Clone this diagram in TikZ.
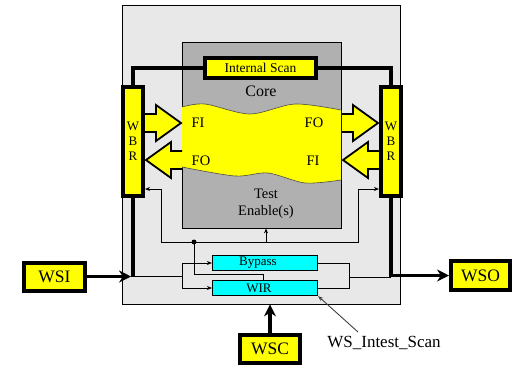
\documentclass[tikz,border=0pt]{standalone}
\usepackage{fontspec}
\setmainfont{Liberation Serif}
\usetikzlibrary{arrows.meta,calc}
\definecolor{outerg}{RGB}{232,232,232}
\definecolor{coreg}{RGB}{176,176,176}
\definecolor{yel}{RGB}{255,255,0}
\definecolor{cyn}{RGB}{0,255,255}
\begin{document}
\begin{tikzpicture}[x=1pt,y=-1pt,
  ybox/.style={draw=black,line width=4pt,fill=yel,inner sep=0pt},
  cbox/.style={draw=black,line width=1.2pt,fill=cyn,inner sep=0pt,minimum width=105pt,minimum height=15pt,font=\fontsize{13}{13}\selectfont},
  thk/.style={line width=3.5pt},
  thn/.style={line width=0.9pt},
  tip/.style={-{Stealth[length=5pt,width=4pt]}},
  bigtip/.style={-{Stealth[length=12pt,width=12pt]}},
  barrow/.style={draw=black,line width=1.8pt,fill=yel,line join=miter},
  lbl/.style={inner sep=0pt,font=\fontsize{14.5}{16}\selectfont}
]
\useasboundingbox (0,0) rectangle (521,365);
% outer and core boxes
\node[draw=black,line width=0.8pt,fill=outerg,minimum width=278pt,minimum height=299pt,inner sep=0pt] (outer) at (261,154.5) {};
\node[draw=black,line width=0.8pt,fill=coreg,minimum width=159pt,minimum height=186pt,inner sep=0pt] (core) at (261.5,135) {};
% yellow wave
\fill[yel] plot[smooth] coordinates {(182,107) (205,104) (250,114) (295,104) (341,110)}
  -- plot[smooth] coordinates {(341,180) (305,183) (268,173) (235,176) (182,167)} -- cycle;
\draw[black!70,line width=0.6pt] plot[smooth] coordinates {(182,107) (205,104) (250,114) (295,104) (341,110)};
\draw[black!70,line width=0.6pt] plot[smooth] coordinates {(341,180) (305,183) (268,173) (235,176) (182,167)};
% block arrows
\filldraw[barrow,shift={(145,123)}] (0,-9) -- (11,-9) -- (11,-18) -- (36,0) -- (11,18) -- (11,9) -- (0,9);
\filldraw[barrow,shift={(182,160)},xscale=-1] (0,-9) -- (11,-9) -- (11,-18) -- (36,0) -- (11,18) -- (11,9) -- (0,9);
\filldraw[barrow,shift={(342,123)}] (0,-9) -- (11,-9) -- (11,-18) -- (36,0) -- (11,18) -- (11,9) -- (0,9);
\filldraw[barrow,shift={(379,160)},xscale=-1] (0,-9) -- (11,-9) -- (11,-18) -- (36,0) -- (11,18) -- (11,9) -- (0,9);
% boxes
\node[ybox,minimum width=111pt,minimum height=20pt,font=\fontsize{13.5}{14}\selectfont] (iscan) at (260.5,68) {Internal Scan};
\node[ybox,minimum width=20pt,minimum height=109pt,align=center,font=\fontsize{13}{15}\selectfont] (wbrl) at (133,141.5) {W\\B\\R};
\node[ybox,minimum width=20pt,minimum height=109pt,align=center,font=\fontsize{13}{15}\selectfont] (wbrr) at (391,141.5) {W\\B\\R};
\node[ybox,minimum width=61pt,minimum height=28pt,font=\fontsize{17.5}{18}\selectfont] (wsi) at (54.5,276.5) {WSI};
\node[ybox,minimum width=59pt,minimum height=29pt,font=\fontsize{17.5}{18}\selectfont] (wso) at (480.5,275.5) {WSO};
\node[ybox,minimum width=60pt,minimum height=28pt,font=\fontsize{17.5}{18}\selectfont] (wsc) at (270,349) {WSC};
\node[cbox] (bypass) at (265,263) {\hspace*{-14pt}Bypass};
\node[cbox] (wir) at (265,288) {\hspace*{-12pt}WIR};
% thick connections
\draw[thk] (iscan.west) -| (wbrl.north);
\draw[thk] (iscan.east) -| (wbrr.north);
\coordinate (sin) at (133,276.5);
\draw[thk] (wbrl.south) -- (sin);
\draw[thk,bigtip] (wsi.east) -- ($(sin)+(-2,0)$);
\draw[thk,bigtip] (wbrr.south) |- (wso.west);
\draw[thk,bigtip] (wsc.north) -- (wsc.north |- outer.south);
% thin control lines
\coordinate (dot) at (194,242);
\coordinate (te) at (266,242);
\coordinate (cl) at (161,189);
\coordinate (cr) at (358,189);
\draw[thn,tip] (dot) -| (cl) -- (cl -| wbrl.east);
\draw[thn,tip] (dot) -| (cr) -- (cr -| wbrr.west);
\draw[thn,tip] (te) -- (te |- core.south);
\fill (dot) circle (2.5pt);
\coordinate (wc) at (263,274);
\draw[thn] (dot) |- (wc) -- (wc |- wir.north);
% serial paths
\coordinate (fan) at (182,276.5);
\draw[thn] (sin) -- (fan);
\draw[thn] (fan |- bypass.west) -- (fan |- wir.west);
\draw[thn,tip] (fan |- bypass.west) -- (bypass.west);
\draw[thn,tip] (fan |- wir.west) -- (wir.west);
\coordinate (fout) at (349,277);
\coordinate (fend) at (391,277);
\draw[thn] (bypass.east) -- (fout |- bypass.east) -- (fout |- wir.east) -- (wir.east);
\draw[thn] (fout) -- (fend);
% labels
\node[inner sep=0pt,font=\fontsize{16}{16}\selectfont] (corel) at (261,91) {Core};
\node[lbl,align=center,font=\fontsize{14.5}{17}\selectfont] (tel) at (266,203.5) {Test\\Enable(s)};
\node[lbl] (fi1) at (198,123) {FI};
\node[lbl] (fo1) at (314,123) {FO};
\node[lbl] (fo2) at (201,161) {FO};
\node[lbl] (fi2) at (313,161) {FI};
\node[inner sep=0pt,font=\fontsize{17}{17}\selectfont] (wsis) at (384,343) {WS\_Intest\_Scan};
\coordinate (wsip) at (358,332);
\draw[thn,tip,draw=black!75] (wsip) -- (wir.south east);
\end{tikzpicture}
\end{document}
